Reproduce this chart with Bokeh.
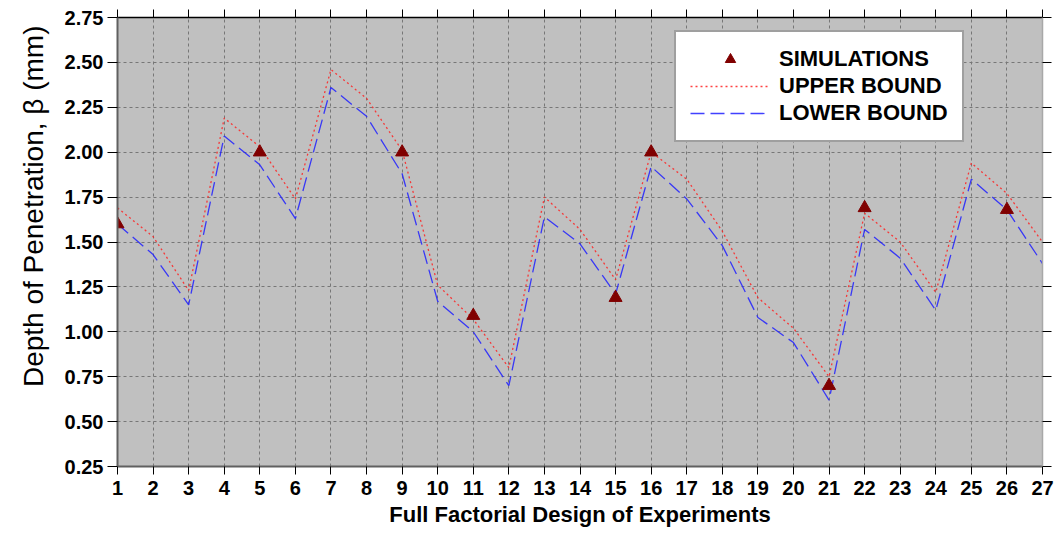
import math
from bokeh.plotting import figure
from bokeh.models import (Range1d, LinearAxis, Legend, LegendItem, Title,
                          FixedTicker, PrintfTickFormatter, ColumnDataSource)
from bokeh.embed import file_html
from bokeh.resources import INLINE

experiments = list(range(1, 28))
upper_bound = [1.69, 1.53, 1.23, 2.19, 2.03, 1.74, 2.46, 2.30, 2.01, 1.26, 1.07, 0.80, 1.75, 1.57,
               1.29, 2.00, 1.85, 1.56, 1.19, 1.02, 0.75, 1.66, 1.50, 1.22, 1.94, 1.77, 1.50]
lower_bound = [1.60, 1.43, 1.15, 2.09, 1.93, 1.63, 2.36, 2.20, 1.88, 1.17, 1.00, 0.70, 1.64, 1.49,
               1.21, 1.92, 1.74, 1.48, 1.08, 0.94, 0.62, 1.57, 1.41, 1.12, 1.85, 1.68, 1.38]
sim_x = [1, 5, 9, 11, 15, 16, 21, 22, 26]
sim_y = [1.60, 2.00, 2.00, 1.09, 1.19, 2.00, 0.70, 1.69, 1.68]
y_ticks = [0.25, 0.50, 0.75, 1.00, 1.25, 1.50, 1.75, 2.00, 2.25, 2.50, 2.75]

FONT = "Liberation Sans"

p = figure(width=1059, height=534, output_backend="svg", toolbar_location=None,
           x_range=Range1d(1, 27), y_range=Range1d(0.25, 2.75),
           min_border_left=117, min_border_right=17, min_border_top=17, min_border_bottom=68)
p.background_fill_color = "#C0C0C0"
p.border_fill_color = "white"
p.outline_line_color = None

lines_src = ColumnDataSource(dict(x=experiments, up=upper_bound, lo=lower_bound))
sim_src = ColumnDataSource(dict(x=sim_x, y=sim_y))

r_up = p.line("x", "up", source=lines_src, line_color="#FF2020", line_alpha=0.85,
              line_width=1.3, line_dash="2 3")
r_lo = p.line("x", "lo", source=lines_src, line_color="#2020FF", line_alpha=0.85,
              line_width=1.3, line_dash="14 6")
r_sim = p.scatter("x", "y", source=sim_src, marker="triangle", size=13,
                  fill_color="#800000", line_color="#800000")

# grids
p.xgrid.ticker = FixedTicker(ticks=experiments)
p.ygrid.ticker = FixedTicker(ticks=y_ticks)
for g in (p.xgrid, p.ygrid):
    g.grid_line_color = "#777777"
    g.grid_line_dash = "3 3"
    g.grid_line_width = 1

# bottom axis
xa = p.xaxis[0]
xa.ticker = FixedTicker(ticks=experiments)
xa.axis_label = "Full Factorial Design of Experiments"
xa.axis_label_text_font = FONT
xa.axis_label_text_font_style = "bold"
xa.axis_label_text_font_size = "22px"
xa.axis_label_text_color = "black"
xa.axis_label_standoff = 4
xa.major_label_text_font = FONT
xa.major_label_text_font_style = "bold"
xa.major_label_text_font_size = "20px"
xa.major_label_text_color = "black"
xa.major_label_standoff = 6
xa.major_tick_out = 8
xa.major_tick_in = 0
xa.minor_tick_line_color = None
xa.axis_line_color = "#606060"
xa.axis_line_width = 2
xa.major_tick_line_color = "black"

# left axis
ya = p.yaxis[0]
ya.ticker = FixedTicker(ticks=y_ticks)
ya.formatter = PrintfTickFormatter(format="%.2f")
ya.major_label_text_font = FONT
ya.major_label_text_font_style = "bold"
ya.major_label_text_font_size = "20px"
ya.major_label_text_color = "black"
ya.major_label_standoff = 4
ya.major_tick_out = 10
ya.major_tick_in = 0
ya.minor_tick_line_color = None
ya.axis_line_color = "#606060"
ya.axis_line_width = 2
ya.major_tick_line_color = "black"

# mirror axes (ticks only, no labels drawn)
top = LinearAxis(ticker=FixedTicker(ticks=experiments), major_label_text_font_size="1px",
                 major_label_text_color=None, major_label_standoff=0,
                 major_tick_out=8, major_tick_in=0,
                 minor_tick_line_color=None, axis_line_color="black", axis_line_width=1.5,
                 major_tick_line_color="black")
right = LinearAxis(ticker=FixedTicker(ticks=y_ticks), major_label_text_font_size="1px",
                   major_label_text_color=None, major_label_standoff=0,
                   major_tick_out=9, major_tick_in=0,
                   minor_tick_line_color=None, axis_line_color="#A8A8A8", axis_line_width=1.5,
                   major_tick_line_color="black")
p.add_layout(top, "above")
p.add_layout(right, "right")

# y title as a left-side title, anchored near the top of the frame
ytitle = Title(text="Depth of Penetration, \u03b2 (mm)", align="right", offset=8,
               text_font=FONT, text_font_size="28px", text_font_style="normal",
               text_color="black", standoff=26)
p.add_layout(ytitle, "left")

legend = Legend(items=[LegendItem(label="SIMULATIONS", renderers=[r_sim]),
                       LegendItem(label="UPPER BOUND", renderers=[r_up]),
                       LegendItem(label="LOWER BOUND", renderers=[r_lo])],
                location=(557, 324))
legend.label_text_font = FONT
legend.label_text_font_style = "bold"
legend.label_text_font_size = "22px"
legend.label_text_color = "black"
legend.label_height = 26
legend.glyph_height = 26
legend.glyph_width = 80
legend.label_standoff = 9
legend.spacing = 1
legend.padding = 14
legend.margin = 0
legend.border_line_color = "#404040"
legend.border_line_width = 2
legend.background_fill_color = "white"
legend.background_fill_alpha = 1.0
p.add_layout(legend)

open("out.html", "w").write(file_html(p, INLINE))
